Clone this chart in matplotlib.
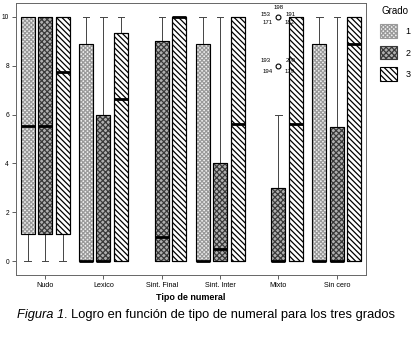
import matplotlib
matplotlib.use('Agg')
import matplotlib.pyplot as plt
from matplotlib.patches import Patch, PathPatch

plt.rcParams['font.family'] = ['Liberation Sans', 'DejaVu Sans']

categorias = ['Nudo', 'Lexico', 'Sint. Final', 'Sint. Inter', 'Mixto', 'Sin cero']
grados = ['1', '2', '3']

# per grado: lists over categorias (None = no box drawn)
q1 = [[1.1, 0, None, 0, None, 0],
      [1.1, 0, 0, 0, 0, 0],
      [1.1, 0, 0, 0, 0, 0]]
mediana = [[5.55, 0, None, 0, None, 0],
           [5.55, 0, 1.0, 0.5, 0, 0],
           [7.75, 6.65, 10, 5.6, 5.6, 8.9]]
q3 = [[10, 8.9, None, 8.9, None, 8.9],
      [10, 6.0, 9.0, 4.0, 3.0, 5.5],
      [10, 9.35, 10, 10, 10, 10]]
bigote_inf = [[0, 0, None, 0, None, 0],
              [0, 0, 0, 0, 0, 0],
              [0, 0, 0, 0, 0, 0]]
bigote_sup = [[10, 10, None, 10, None, 10],
              [10, 10, 10, 10, 6.0, 10],
              [10, 10, 10, 10, 10, 10]]

# outliers (grado 2, Mixto)
atipicos = [10, 8]
etiquetas_atipicos = [['198', '153', '191', '171', '182'],
                      ['193', '200', '194', '179']]

estilos = [dict(facecolor='#f0f0f0', edgecolor='#9a9a9a', hatch='xxxxxxxx'),
           dict(facecolor='#b0b0b0', edgecolor='#3a3a3a', hatch='xxxxxx'),
           dict(facecolor='white', edgecolor='black', hatch='\\' * 6)]

plt.rcParams['hatch.linewidth'] = 0.9

fig = plt.figure(figsize=(4.14, 3.37), dpi=100)
ax = fig.add_axes([16 / 414, 1 - 275 / 337, 350 / 414, 272 / 337])

ancho = 0.24
desp = 0.30
for g in range(3):
    for c in range(len(categorias)):
        if q1[g][c] is None:
            continue
        st = dict(med=mediana[g][c], q1=q1[g][c], q3=q3[g][c],
                  whislo=bigote_inf[g][c], whishi=bigote_sup[g][c], fliers=[])
        if g == 1 and categorias[c] == 'Mixto':
            st['fliers'] = atipicos
        pos = c + (g - 1) * desp
        res = ax.bxp([st], positions=[pos], widths=ancho, patch_artist=True,
                     showfliers=True, capwidths=0.11,
                     medianprops=dict(color='black', linewidth=2, zorder=3),
                     whiskerprops=dict(color='#444444', linewidth=0.7),
                     capprops=dict(color='#444444', linewidth=0.7),
                     flierprops=dict(marker='o', markersize=3.5, markerfacecolor='white',
                                     markeredgecolor='black', markeredgewidth=0.8))
        for b in res['boxes']:
            b.set(**estilos[g])
            b.set_linewidth(0.8)
            # black outline on top of the hatched fill
            ax.add_patch(PathPatch(b.get_path(), fill=False, edgecolor='black',
                                   linewidth=0.8, zorder=2.5))
        if st['fliers']:
            offs = [[(0, 7), (-9, 2), (9, 2), (-8, -4), (8, -4)],
                    [(-9, 4), (9, 4), (-8, -4), (8, -4)]]
            for v, labs, oo in zip(atipicos, etiquetas_atipicos, offs):
                for lab, o in zip(labs, oo):
                    ax.annotate(lab, xy=(pos, v), xytext=o, textcoords='offset points',
                                ha='center', va='center', fontsize=4.3)

ax.set_xlim(-0.5, len(categorias) - 0.5)
ax.set_ylim(-0.57, 10.57)
ax.set_xticks(range(len(categorias)))
ax.set_xticklabels(categorias, fontsize=5.2)
ax.set_yticks([0, 2, 4, 6, 8, 10])
ax.set_yticklabels(['0', '2', '4', '6', '8', '10'], fontsize=4.8)
ax.tick_params(length=3, width=0.6, color='#444444', pad=2)
for s in ax.spines.values():
    s.set_color('#666666')
    s.set_linewidth(0.7)
ax.set_xlabel('Tipo de numeral', fontsize=6.5, fontweight='bold', labelpad=3)

handles = [Patch(label=grados[g], linewidth=0.8, **estilos[g]) for g in range(3)]
leg = fig.legend(handles=handles, title='Grado', loc='upper left',
                 bbox_to_anchor=(374 / 414, 1 - 0 / 337), frameon=False,
                 fontsize=6.5, title_fontsize=7, handlelength=1.8, handleheight=1.9,
                 labelspacing=0.9, handletextpad=1.0, borderaxespad=0.3)

t1 = fig.text(17 / 414, 1 - 315 / 337, 'Figura 1', fontsize=9.3, style='italic', va='center')
ax.annotate('. Logro en función de tipo de numeral para los tres grados', xy=(1, 0.5),
            xycoords=t1, va='center', ha='left', fontsize=9.3, annotation_clip=False)

fig.savefig('out.png', dpi=100)
